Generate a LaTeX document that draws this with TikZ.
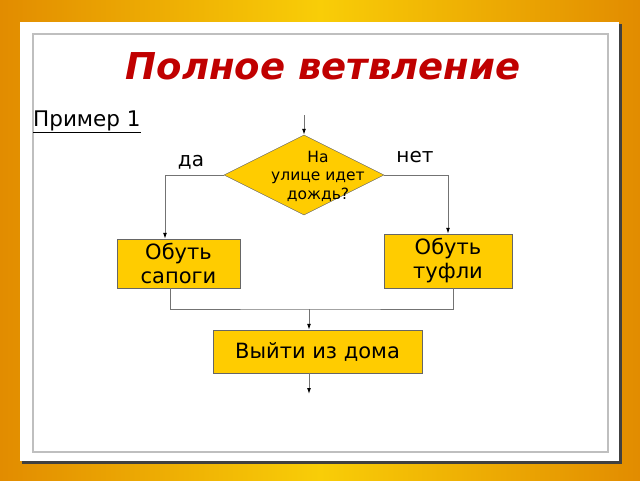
\documentclass[tikz,border=0pt]{standalone}
\usepackage{fontspec}
\setmainfont{DejaVu Sans}
\usetikzlibrary{shapes.geometric,arrows.meta}
\definecolor{gold}{RGB}{246,184,10}
\definecolor{darkgold}{RGB}{226,140,0}
\definecolor{boxfill}{RGB}{255,204,0}
\definecolor{titlered}{RGB}{192,0,0}

\begin{document}
\begin{tikzpicture}[x=1pt,y=-1pt,
  box/.style={draw=black!60,fill=boxfill,inner sep=1pt,align=center,font=\fontsize{21}{24}\selectfont},
  decision/.style={diamond,draw=black!60,fill=boxfill,minimum width=160pt,minimum height=80pt,inner sep=0pt},
  label/.style={font=\fontsize{20}{24}\selectfont},
  conn/.style={draw=black!55,line width=1pt},
  arr/.style={conn,-{Latex[black,length=6pt,width=4pt]}}]
\useasboundingbox (0,0) rectangle (640,480);
% background and frame
\shade[left color=darkgold,right color=darkgold,middle color=gold!70!yellow] (0,0) rectangle (640,480);
\fill[black!75] (22,24) rectangle (622,464);
\fill[white] (20,22) rectangle (619,461);
\draw[black!25,line width=1.5pt] (33,34) rectangle (608,452);
% texts
\node[text=titlered,font=\fontsize{37}{44}\bfseries\itshape\selectfont] (title) at (323,66) {Полное ветвление};
\node[anchor=base west,inner sep=0pt,font=\fontsize{21.5}{26}\selectfont] (ex) at (33,126) {\underline{Пример 1}};
% flowchart
\node[decision] (q) at (304,175) {};
\node[align=center,font=\fontsize{15.5}{18.5}\selectfont] (qtext) at (318,176) {На\\улице идет\\дождь?};
\node[label] (yes) at (191,162) {да};
\node[label] (no) at (415,157) {нет};
\node[box,minimum width=123pt,minimum height=49pt] (boots) at (178.5,263.5) {Обуть\\сапоги};
\node[box,minimum width=128pt,minimum height=54pt] (shoes) at (448,261) {Обуть\\туфли};
\node[box,minimum width=209pt,minimum height=43pt] (exit) at (317.5,351.5) {Выйти из дома};
\coordinate (in) at (304,115);
\coordinate (j) at (309,309);
\coordinate (out) at (309,394);
\draw[arr] (in) -- (q.north);
\draw[arr] (q.west) -| ([xshift=-13.5pt]boots.north);
\draw[arr] (q.east) -| (shoes.north);
\draw[conn] ([xshift=-8.5pt]boots.south) |- (j) -| ([xshift=5pt]shoes.south);
\draw[arr] (j) -- (j |- exit.north);
\draw[arr] (j |- exit.south) -- (out);
\end{tikzpicture}
\end{document}
